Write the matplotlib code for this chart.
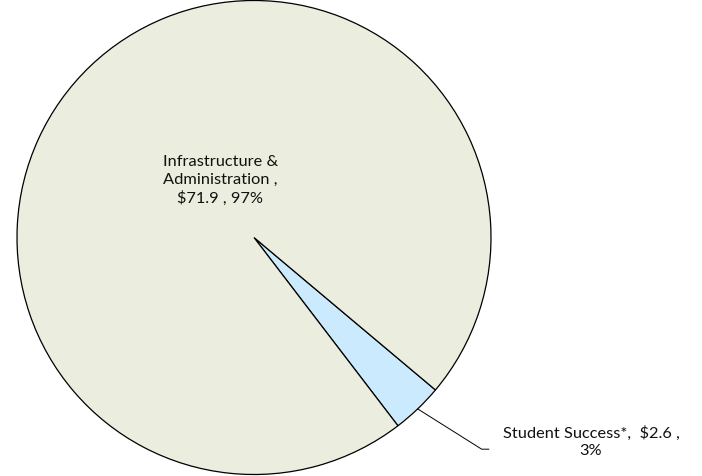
import numpy as np
import matplotlib.pyplot as plt

# spending in $ millions
categories = ['Student Success*', 'Infrastructure &\nAdministration']
amounts = [2.6, 71.9]
colors = ['#CCEAFD', '#EBEEDE']

plt.rcParams['font.family'] = ['Lato', 'DejaVu Sans']

W, H = 702, 477
fig = plt.figure(figsize=(W / 100, H / 100), dpi=100)
ax = fig.add_axes([17 / W, 1 / H, 474 / W, 475 / H])

wedges, _ = ax.pie(amounts, colors=colors, startangle=-52.6, counterclock=True,
                   radius=1, center=(0, 0), frame=True,
                   wedgeprops=dict(edgecolor='black', linewidth=0.9))
ax.set_xlim(-1, 1)
ax.set_ylim(-1, 1)
ax.axis('off')

total = sum(amounts)
pcts = [round(a / total * 100) for a in amounts]

# big slice label, inside the pie
ax.text(-0.143, 0.245, f'{categories[1]} ,\n${amounts[1]} , {pcts[1]}%',
        ha='center', va='center', fontsize=11.8, linespacing=1.3, color='#111111')

# small slice: leader line from the rim, then the label outside
w = wedges[0]
mid = np.deg2rad((w.theta1 + w.theta2) / 2)
rim = np.array([np.cos(mid), np.sin(mid)])
elbow = rim + np.array([0.27, -0.17])
tail = elbow + np.array([0.03, 0])
ax.plot([rim[0], elbow[0], tail[0]], [rim[1], elbow[1], tail[1]],
        color='black', linewidth=0.7, clip_on=False)
ax.text(1.422, -0.857, f'{categories[0]},  ${amounts[0]} ,\n{pcts[0]}%',
        ha='center', va='center', fontsize=11.8, linespacing=1.3, color='#111111')

fig.savefig('out.png', dpi=100)
